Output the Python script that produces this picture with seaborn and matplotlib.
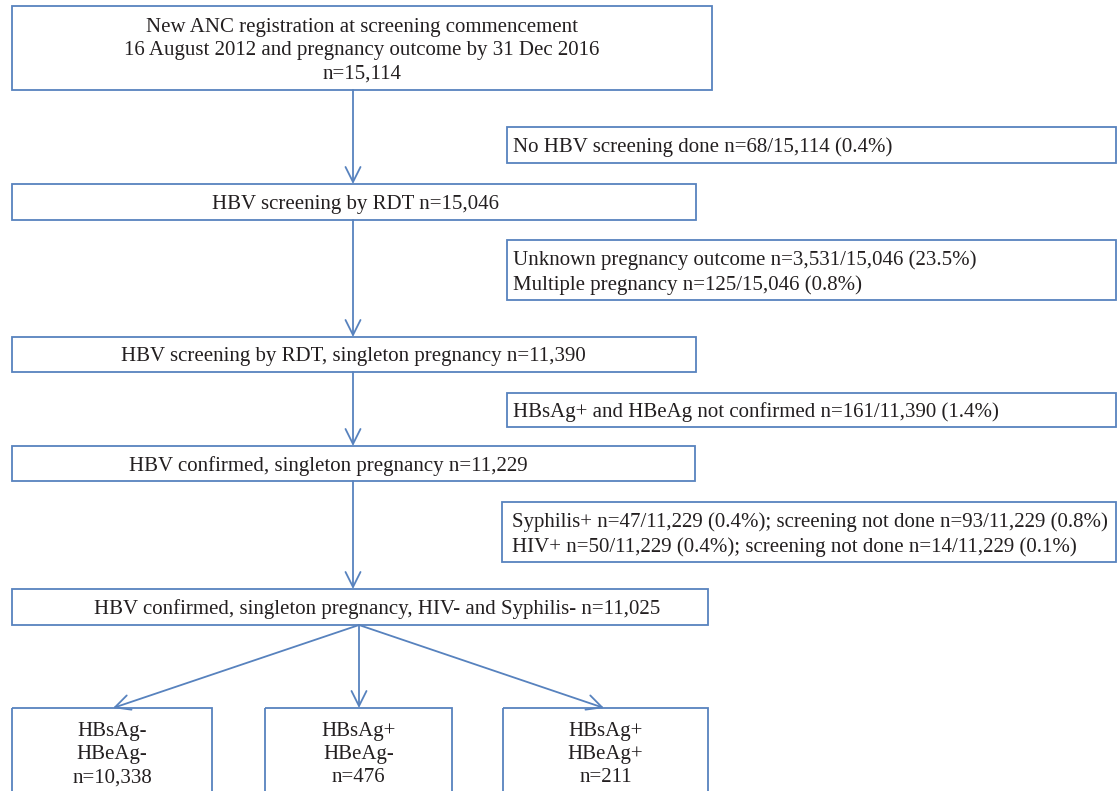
import matplotlib
matplotlib.use("Agg")
import matplotlib.pyplot as plt
import seaborn as sns
from matplotlib.patches import Rectangle

# ---------------- data ----------------
main_steps = [
    "New ANC registration at screening commencement\n16 August 2012 and pregnancy outcome by 31 Dec 2016\nn={}",
    "HBV screening by RDT n={}",
    "HBV screening by RDT, singleton pregnancy n={}",
    "HBV confirmed, singleton pregnancy n={}",
    "HBV confirmed, singleton pregnancy, HIV- and Syphilis- n={}",
]
main_counts = [15114, 15046, 11390, 11229, 11025]

exclusions = [
    "No HBV screening done n=68/15,114 (0.4%)",
    "Unknown pregnancy outcome n=3,531/15,046 (23.5%)\nMultiple pregnancy n=125/15,046 (0.8%)",
    "HBsAg+ and HBeAg not confirmed n=161/11,390 (1.4%)",
    "Syphilis+ n=47/11,229 (0.4%); screening not done n=93/11,229 (0.8%)\n"
    "HIV+ n=50/11,229 (0.4%); screening not done n=14/11,229 (0.1%)",
]

outcome_groups = ["HBsAg-\nHBeAg-", "HBsAg+\nHBeAg-", "HBsAg+\nHBeAg+"]
outcome_counts = [10338, 476, 211]

# ---------------- layout (pixel coordinates) ----------------
main_boxes = [(12, 712, 6, 90), (12, 696, 184, 220), (12, 696, 337, 372),
              (12, 695, 446, 481), (12, 708, 589, 625)]
main_text_x = [362, 356, 353, 328, 377]
side_boxes = [(507, 1116, 127, 163), (507, 1116, 240, 300),
              (507, 1116, 393, 427), (502, 1116, 502, 562)]
side_text_x = [513, 513, 513, 512]
bottom_boxes = [(12, 212, 708, 800), (265, 452, 708, 800), (503, 708, 708, 800)]
bottom_text_y = 752
arrow_x = 353
split = (359, 625)
targets_x = [113, 359, 604]
DY = 2.5

COLOR = "#5782BE"
TEXT = "#231F20"
LW = 1.3
FS = 15
LS = 1.32

sns.set_theme(style="white")
plt.rcParams["font.family"] = ["Liberation Serif", "DejaVu Serif"]

W, H = 1117, 791
fig = plt.figure(figsize=(W / 100, H / 100), dpi=100)
ax = fig.add_axes([0, 0, 1, 1])
ax.set_xlim(0, W)
ax.set_ylim(H, 0)
ax.axis("off")


def box(x0, x1, y0, y1):
    ax.add_patch(Rectangle((x0, y0), x1 - x0, y1 - y0, fill=False,
                           edgecolor=COLOR, linewidth=LW, clip_on=False))


def arrow(x0, y0, x1, y1):
    ax.annotate("", xy=(x1, y1), xytext=(x0, y0),
                arrowprops=dict(arrowstyle="->,head_length=0.9,head_width=0.45",
                                color=COLOR, lw=LW, shrinkA=0, shrinkB=0))


for (x0, x1, y0, y1), label, n, tx in zip(main_boxes, main_steps, main_counts, main_text_x):
    box(x0, x1, y0, y1)
    ax.text(tx, (y0 + y1) / 2 + DY, label.format(f"{n:,}"), ha="center", va="center",
            fontsize=FS, color=TEXT, linespacing=LS)

for (x0, x1, y0, y1), label, tx in zip(side_boxes, exclusions, side_text_x):
    box(x0, x1, y0, y1)
    ax.text(tx, (y0 + y1) / 2 + DY, label, ha="left", va="center",
            fontsize=FS, color=TEXT, linespacing=LS)

for (x0, x1, y0, y1), label, n in zip(bottom_boxes, outcome_groups, outcome_counts):
    box(x0, x1, y0, y1)
    ax.text((x0 + x1) / 2, bottom_text_y + DY, f"{label}\nn={n:,}", ha="center", va="center",
            fontsize=FS, color=TEXT, linespacing=LS)

for i in range(len(main_boxes) - 1):
    arrow(arrow_x, main_boxes[i][3], arrow_x, main_boxes[i + 1][2])

for tx in targets_x:
    arrow(split[0], split[1], tx, bottom_boxes[0][2])

fig.savefig("out.png", dpi=100, facecolor="white")
